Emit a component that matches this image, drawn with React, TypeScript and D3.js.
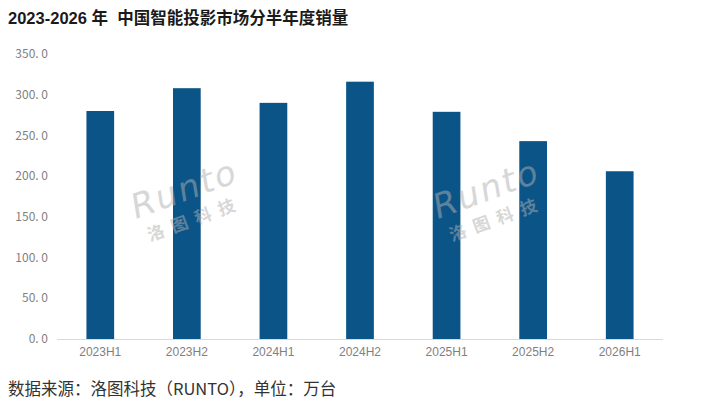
import React from 'react';
import * as d3 from 'd3';

// half-year periods and sales (万台)
const periods = ['2023H1', '2023H2', '2024H1', '2024H2', '2025H1', '2025H2', '2026H1'];
const sales = [280, 308, 290, 316, 279, 243, 206];
const yTicks = [0, 50, 100, 150, 200, 250, 300, 350];

const W = 705, H = 408;
const CJK = '"Noto Sans CJK SC", "Noto Sans", sans-serif';

export default function App() {
    const x = d3.scaleBand<string>()
        .domain(periods)
        .range([57, 663])
        .paddingInner(0.68)
        .paddingOuter(0.34);
    const y = d3.scaleLinear().domain([0, 350]).range([339, 54]);

    const watermarks = [{ cx: 188, cy: 200 }, { cx: 490, cy: 200 }];

    return (
        <svg width={W} height={H} style={{ position: 'absolute', left: 0, top: 0, background: '#fff' }}>
            <text x={8} y={24} fontFamily={'"Liberation Sans", ' + CJK} fontWeight="bold" fontSize={16.5}
                fill="#1a1a1a" style={{ whiteSpace: 'pre' }}>
                {'2023-2026 年  中国智能投影市场分半年度销量'}
            </text>

            {/* y ticks */}
            {yTicks.map(t => (
                <text key={t} x={48} y={y(t)} dy="0.35em" textAnchor="end"
                    fontFamily={CJK} fontSize={12} fill="#7f7f7f">
                    {d3.format('.1f')(t).replace('.', '. ')}
                </text>
            ))}

            {/* bars */}
            {periods.map((p, i) => (
                <rect key={p} x={x(p)} y={y(sales[i])} width={x.bandwidth()}
                    height={y(0) - y(sales[i])} fill="#0b5487" />
            ))}

            {/* baseline */}
            <line x1={57} x2={663} y1={y(0) + 0.5} y2={y(0) + 0.5} stroke="#d9d9d9" />

            {/* x labels */}
            {periods.map(p => (
                <text key={p} x={(x(p) as number) + x.bandwidth() / 2} y={356}
                    textAnchor="middle" fontFamily='"Liberation Sans Narrow", "Liberation Sans", sans-serif'
                    fontSize={12} fill="#7f7f7f">
                    {p}
                </text>
            ))}

            {/* watermark */}
            {watermarks.map((w, i) => (
                <g key={i} transform={`translate(${w.cx},${w.cy}) rotate(-20)`} opacity={0.5}>
                    <text x={0} y={0} textAnchor="middle" fontFamily='"DejaVu Sans", sans-serif'
                        fontStyle="italic" fontSize={34} fill="#b0b0b0" letterSpacing={2}>
                        Runto
                    </text>
                    <text x={0} y={26} textAnchor="middle" fontFamily={CJK} fontWeight="bold"
                        fontSize={17} fill="#b0b0b0" letterSpacing={8}>
                        洛图科技
                    </text>
                </g>
            ))}

            <text x={8} y={395} fontFamily={CJK} fontSize={16.5} fill="#333">
                数据来源：洛图科技（RUNTO），单位：万台
            </text>
        </svg>
    );
}
